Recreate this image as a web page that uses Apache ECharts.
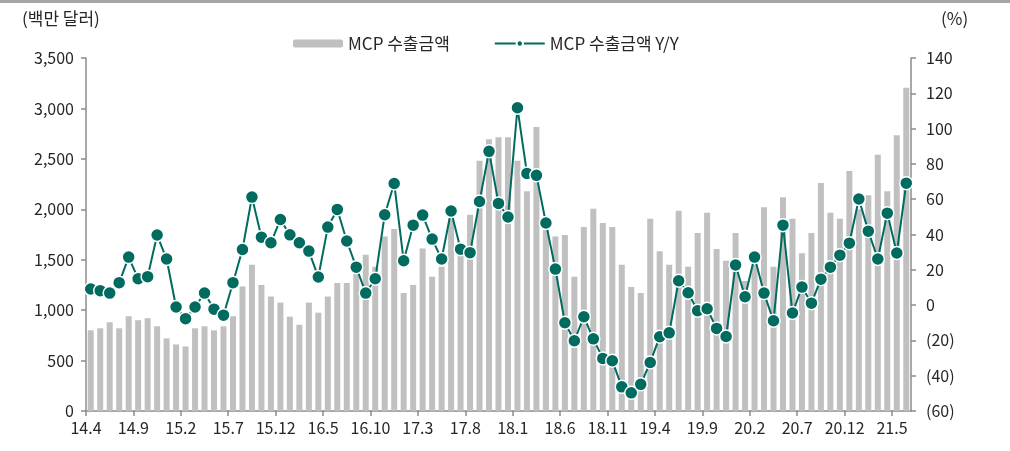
<!DOCTYPE html>
<html>
<head>
<meta charset="utf-8">
<script src="https://cdn.jsdelivr.net/npm/echarts@6/dist/echarts.min.js"></script>
<style>
  html, body { margin: 0; padding: 0; background: #fff; }
  #chart { width: 1010px; height: 451px; }
</style>
</head>
<body>
<div id="chart"></div>
<script>
// MCP 수출금액 (백만 달러) 과 전년동월비 (%) — 2014.4 ~ 2021.6 월별
const startYear = 14, startMonth = 4, monthCount = 87;
const months = [];
for (let k = 0; k < monthCount; k++) {
  const m = startMonth - 1 + k;
  months.push((startYear + Math.floor(m / 12)) + '.' + (m % 12 + 1));
}

const exportAmount = [
  800, 820, 880, 820, 940, 900, 920, 840, 720, 660,
  640, 820, 840, 800, 840, 940, 1235, 1450, 1250, 1135,
  1075, 935, 855, 1075, 975, 1135, 1270, 1270, 1360, 1550,
  1430, 1730, 1805, 1170, 1250, 1610, 1330, 1430, 1900, 1600,
  1945, 2480, 2695, 2715, 2715, 2480, 2180, 2815, 1830, 1730,
  1745, 1330, 1825, 2005, 1865, 1825, 1450, 1230, 1170, 1905,
  1585, 1450, 1985, 1430, 1765, 1965, 1605, 1490, 1765, 1290,
  1450, 2020, 1430, 2120, 1905, 1565, 1765, 2260, 1965, 1905,
  2380, 2000, 2140, 2540, 2180, 2735, 3205
];

const exportYoY = [
  9.1, 8.2, 6.8, 12.7, 27.2, 14.9, 16.1, 39.7, 26.1, -1.1,
  -7.7, -1.1, 6.8, -2.3, -5.7, 12.7, 31.5, 61.2, 38.5, 35.3,
  48.5, 39.8, 35.3, 30.6, 15.9, 44.2, 54.2, 36.3, 21.5, 6.8,
  14.9, 51.2, 68.9, 25.1, 45.3, 51.0, 37.4, 26.1, 53.3, 31.7,
  29.7, 58.7, 87.1, 57.6, 49.9, 111.8, 74.6, 73.5, 46.5, 20.4,
  -10.0, -20.2, -6.6, -19.1, -30.2, -31.5, -46.3, -49.7, -44.9, -32.5,
  -17.9, -15.7, 13.8, 7.0, -3.2, -2.1, -13.2, -17.8, 22.7, 4.7,
  27.2, 6.8, -8.9, 45.3, -4.5, 10.2, 1.1, 14.7, 21.5, 28.3,
  35.1, 60.1, 41.9, 26.1, 52.1, 29.5, 69.1
];

const tickStep = 5;
const labelFont = '"Noto Sans CJK KR", "Noto Sans", sans-serif';
const axisGray = '#8c8c8c';
const textColor = '#262626';

// 눈금 라벨용 축: 칸 경계(0..87)에 놓임
const boundaryLabels = months.concat(['']);
const onTick = (i) => i % tickStep === 0 && i < monthCount;

const chart = echarts.init(document.getElementById('chart'));
chart.setOption({
  animation: false,
  textStyle: { fontFamily: labelFont },
  grid: { left: 86, right: 99, top: 58, bottom: 40, containLabel: false },
  legend: {
    left: 288, top: 30,
    itemGap: 44, itemWidth: 50, itemHeight: 8,
    textStyle: { fontSize: 17, color: textColor, fontFamily: labelFont },
    data: ['MCP 수출금액', 'MCP 수출금액 Y/Y']
  },
  graphic: [
    { type: 'rect', shape: { x: 0, y: 0, width: 1010, height: 3 }, style: { fill: '#a6a6a6' } },
    { type: 'text', left: 22, top: 10, style: { text: '(백만 달러)', fontSize: 17, fill: textColor, fontFamily: labelFont } },
    { type: 'text', left: 941, top: 10, style: { text: '(%)', fontSize: 17, fill: textColor, fontFamily: labelFont } }
  ],
  xAxis: [
    {
      type: 'category', data: months, boundaryGap: true, show: false,
      axisLine: { show: false, onZero: false }
    },
    {
      type: 'category', data: boundaryLabels, boundaryGap: false, position: 'bottom',
      axisLine: { show: true, onZero: false, lineStyle: { color: axisGray, width: 1.5 } },
      axisTick: { show: true, length: 5, interval: onTick, lineStyle: { color: axisGray, width: 1.5 } },
      axisLabel: { interval: onTick, fontSize: 16, color: textColor, margin: 9 },
      splitLine: { show: false }
    }
  ],
  yAxis: [
    {
      type: 'value', min: 0, max: 3500, interval: 500,
      axisLine: { show: true, lineStyle: { color: axisGray, width: 1.5 } },
      axisTick: { show: true, length: 5, lineStyle: { color: axisGray, width: 1.5 } },
      axisLabel: { fontSize: 16, color: textColor, margin: 12, formatter: (v) => v.toLocaleString('en-US') },
      splitLine: { show: false }
    },
    {
      type: 'value', min: -60, max: 140, interval: 20, position: 'right',
      axisLine: { show: true, lineStyle: { color: axisGray, width: 1.5 } },
      axisTick: { show: true, length: 5, lineStyle: { color: axisGray, width: 1.5 } },
      axisLabel: { fontSize: 16, color: textColor, margin: 15, formatter: (v) => v < 0 ? '(' + (-v) + ')' : String(v) },
      splitLine: { show: false }
    }
  ],
  series: [
    {
      name: 'MCP 수출금액', type: 'bar', xAxisIndex: 0, yAxisIndex: 0,
      data: exportAmount, barWidth: 6,
      itemStyle: { color: '#c0c0c0' }
    },
    {
      name: 'MCP 수출금액 Y/Y', type: 'line', xAxisIndex: 0, yAxisIndex: 1,
      data: exportYoY, z: 5,
      symbol: 'circle', symbolSize: 13, showAllSymbol: true,
      lineStyle: { color: '#006b5e', width: 2 },
      itemStyle: { color: '#006b5e', borderColor: '#ffffff', borderWidth: 1.5 }
    }
  ]
});
</script>
</body>
</html>
